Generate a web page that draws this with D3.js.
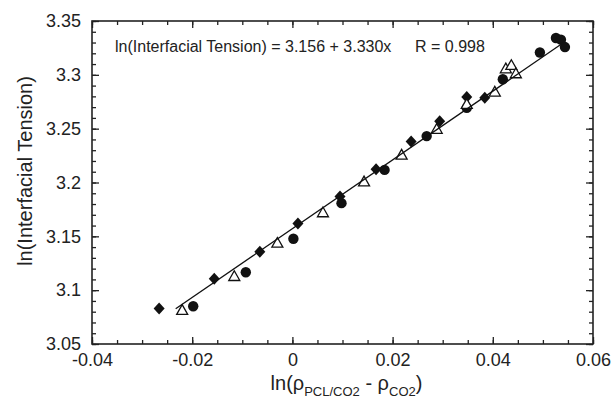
<!DOCTYPE html>
<html>
<head>
<meta charset="utf-8">
<script src="https://cdn.jsdelivr.net/npm/d3@7"></script>
<style>
  body { margin: 0; background: #fff; }
  text { font-family: "Liberation Sans", Arial, sans-serif; fill: #222; }
  .axis path { display: none; }
  .axis line { stroke: #222; stroke-width: 1.3px; }
</style>
</head>
<body>
<script>
// diamonds (filled)
var diamondX = [-0.0266, -0.0156, -0.0065, 0.0011, 0.0095, 0.0167, 0.0237, 0.0294, 0.0348, 0.0384];
var diamondY = [3.0829, 3.1107, 3.1357, 3.1620, 3.1870, 3.2123, 3.2380, 3.2570, 3.2795, 3.2786];
// circles (filled)
var circleX = [-0.0198, -0.0093, 0.0002, 0.0098, 0.0184, 0.0268, 0.0348, 0.0420, 0.0494, 0.0526, 0.0536, 0.0544];
var circleY = [3.0851, 3.1166, 3.1478, 3.1808, 3.2117, 3.2431, 3.2693, 3.2959, 3.3207, 3.3342, 3.3327, 3.3258];
// triangles (open)
var triX = [-0.0220, -0.0116, -0.0030, 0.0061, 0.0143, 0.0218, 0.0288, 0.0348, 0.0404, 0.0426, 0.0437, 0.0446];
var triY = [3.0814, 3.1129, 3.1438, 3.1721, 3.2008, 3.2256, 3.2496, 3.2728, 3.2842, 3.3058, 3.3089, 3.3012];
// fitted line end points
var fitX = [-0.0233, 0.054];
var fitY = [3.0827, 3.3295];

var xTicks = [-0.04, -0.02, 0, 0.02, 0.04, 0.06];
var yTicks = [3.05, 3.1, 3.15, 3.2, 3.25, 3.3, 3.35];

var margin = {top: 21, right: 19, bottom: 62, left: 92};
var W = 612, H = 406;
var w = W - margin.left - margin.right;
var h = H - margin.top - margin.bottom;

var x = d3.scaleLinear().domain([-0.04, 0.06]).range([0, w]);
var y = d3.scaleLinear().domain([3.05, 3.35]).range([h, 0]);

var svg = d3.select("body").append("svg")
    .attr("width", W)
    .attr("height", H);
var g = svg.append("g")
    .attr("transform", "translate(" + margin.left + "," + margin.top + ")");

var xMinor = d3.range(-0.04, 0.0601, 0.005);
var yMinor = d3.range(3.05, 3.3501, 0.01);

function fmtX(d) { return Math.abs(d) < 1e-9 ? "0" : (d < 0 ? "-" : "") + Math.abs(d).toFixed(2); }
function fmtY(d) { return String(+d.toFixed(2)); }

// minor ticks
g.append("g").attr("class", "axis").attr("transform", "translate(0," + h + ")")
    .call(d3.axisBottom(x).tickValues(xMinor).tickSize(-4).tickFormat(""));
g.append("g").attr("class", "axis")
    .call(d3.axisTop(x).tickValues(xMinor).tickSize(-4).tickFormat(""));
g.append("g").attr("class", "axis")
    .call(d3.axisLeft(y).tickValues(yMinor).tickSize(-4).tickFormat(""));
g.append("g").attr("class", "axis").attr("transform", "translate(" + w + ",0)")
    .call(d3.axisRight(y).tickValues(yMinor).tickSize(-4).tickFormat(""));

// major ticks
var xb = g.append("g").attr("class", "axis").attr("transform", "translate(0," + h + ")")
    .call(d3.axisBottom(x).tickValues(xTicks).tickSize(-7).tickPadding(9).tickFormat(fmtX));
g.append("g").attr("class", "axis")
    .call(d3.axisTop(x).tickValues(xTicks).tickSize(-7).tickFormat(""));
var yl = g.append("g").attr("class", "axis")
    .call(d3.axisLeft(y).tickValues(yTicks).tickSize(-7).tickPadding(11).tickFormat(fmtY));
g.append("g").attr("class", "axis").attr("transform", "translate(" + w + ",0)")
    .call(d3.axisRight(y).tickValues(yTicks).tickSize(-7).tickFormat(""));

xb.selectAll("text").style("font-size", "18px").style("font-family", "'Liberation Sans', Arial, sans-serif").attr("fill", "#222");
yl.selectAll("text").style("font-size", "18px").style("font-family", "'Liberation Sans', Arial, sans-serif").attr("fill", "#222");

// frame
g.append("rect")
    .attr("width", w).attr("height", h)
    .attr("fill", "none").attr("stroke", "#222").attr("stroke-width", 1.6);

// markers
var diamonds = diamondX.map(function(d, i) { return [d, diamondY[i]]; });
var circles = circleX.map(function(d, i) { return [d, circleY[i]]; });
var tris = triX.map(function(d, i) { return [d, triY[i]]; });

g.selectAll("path.diamond").data(diamonds).enter().append("path")
    .attr("class", "diamond")
    .attr("d", "M0,-6L5.5,0L0,6L-5.5,0Z")
    .attr("transform", function(d) { return "translate(" + x(d[0]) + "," + y(d[1]) + ")"; })
    .attr("fill", "#111");

g.selectAll("circle.pt").data(circles).enter().append("circle")
    .attr("class", "pt")
    .attr("cx", function(d) { return x(d[0]); })
    .attr("cy", function(d) { return y(d[1]); })
    .attr("r", 5.2)
    .attr("fill", "#111");

g.selectAll("path.tri").data(tris).enter().append("path")
    .attr("class", "tri")
    .attr("d", "M0,-5.5L5.5,4.2L-5.5,4.2Z")
    .attr("transform", function(d) { return "translate(" + x(d[0]) + "," + y(d[1]) + ")"; })
    .attr("fill", "#fff")
    .attr("stroke", "#111")
    .attr("stroke-width", 1.3);

// fit line
g.append("line")
    .attr("x1", x(fitX[0])).attr("y1", y(fitY[0]))
    .attr("x2", x(fitX[1])).attr("y2", y(fitY[1]))
    .attr("stroke", "#111").attr("stroke-width", 1.3);

// equation
svg.append("text").attr("x", 115).attr("y", 51.5)
    .style("font-size", "16px")
    .text("ln(Interfacial Tension) = 3.156 + 3.330x");
svg.append("text").attr("x", 415).attr("y", 51.5)
    .style("font-size", "16px")
    .text("R = 0.998");

// axis titles
var xt = svg.append("text")
    .attr("x", margin.left + w / 2 + 4).attr("y", 390)
    .attr("text-anchor", "middle")
    .style("font-size", "20px");
xt.append("tspan").text("ln(\u03c1");
xt.append("tspan").attr("dy", 6).style("font-size", "13px").text("PCL/CO2");
xt.append("tspan").attr("dy", -6).text(" - \u03c1");
xt.append("tspan").attr("dy", 6).style("font-size", "13px").text("CO2");
xt.append("tspan").attr("dy", -6).text(")");

svg.append("text")
    .attr("transform", "translate(32,171) rotate(-90)")
    .attr("text-anchor", "middle")
    .style("font-size", "20px")
    .text("ln(Interfacial Tension)");
</script>
</body>
</html>
